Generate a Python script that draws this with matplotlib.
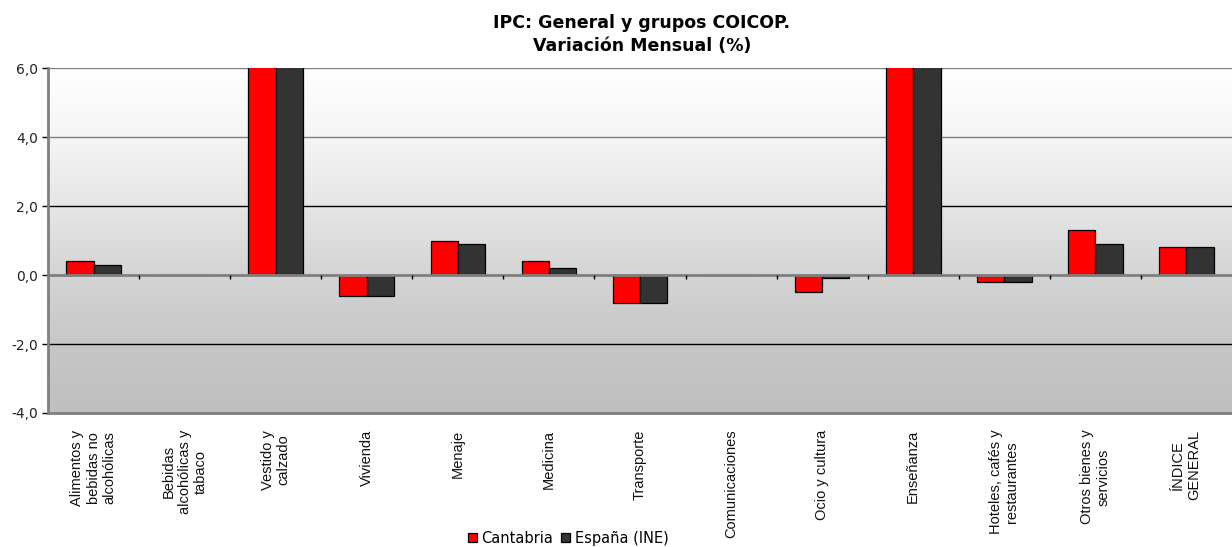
import numpy as np
import matplotlib
matplotlib.use('Agg')
import matplotlib.pyplot as plt
from matplotlib.patches import Patch
from matplotlib.colors import LinearSegmentedColormap

categorias = ['Alimentos y\nbebidas no\nalcohólicas', 'Bebidas\nalcohólicas y\ntabaco',
              'Vestido y\ncalzado', 'Vivienda', 'Menaje', 'Medicina', 'Transporte',
              'Comunicaciones', 'Ocio y cultura', 'Enseñanza', 'Hoteles, cafés y\nrestaurantes',
              'Otros bienes y\nservicios', 'ÍNDICE\nGENERAL']
# Vestido y Enseñanza superan el máximo del eje (6,0) y aparecen recortadas
cantabria = [0.4, 0.0, 6.5, -0.6, 1.0, 0.4, -0.8, 0.0, -0.5, 6.5, -0.2, 1.3, 0.8]
espana = [0.3, 0.0, 6.5, -0.6, 0.9, 0.2, -0.8, 0.0, -0.1, 6.5, -0.2, 0.9, 0.8]
yticks = [-4.0, -2.0, 0.0, 2.0, 4.0, 6.0]

fig = plt.figure(figsize=(12.32, 5.47), dpi=100)
ax = fig.add_axes([0.039, 0.245, 0.961, 0.6305])
n = len(categorias)
x = np.arange(n)
ax.set_xlim(-0.5, n - 0.5)
ax.set_ylim(-4, 6)

# fondo degradado (de abajo a arriba)
cmap = LinearSegmentedColormap.from_list('g', [(0.0, '#bfbfbf'), (0.2, '#c7c7c7'), (0.4, '#d4d4d4'),
                                                (0.6, '#e6e6e6'), (0.8, '#f5f5f5'), (1.0, '#ffffff')])
grad = np.linspace(1, 0, 256).reshape(-1, 1)
ax.imshow(grad, cmap=cmap, extent=[-0.5, n - 0.5, -4, 6], aspect='auto', zorder=0, origin='upper')

for y in yticks[1:]:
    if y == 0:
        continue
    col = '#000000' if abs(y) == 2 else '#7f7f7f'
    ax.axhline(y, color=col, lw=1, zorder=1)

w = 0.3
ax.bar(x - w / 2, cantabria, w, color='#ff0000', edgecolor='#000000', lw=0.9, zorder=2)
ax.bar(x + w / 2, espana, w, color='#333333', edgecolor='#000000', lw=0.9, zorder=2)

ax.axhline(0, color='#7f7f7f', lw=2, zorder=3)
ax.vlines(np.arange(n - 1) + 0.5, -0.12, 0, color='#000000', lw=1, zorder=3)

for s in ['top', 'right']:
    ax.spines[s].set_visible(False)
for s in ['left', 'bottom']:
    ax.spines[s].set_color('#7f7f7f')
    ax.spines[s].set_linewidth(2)
    ax.spines[s].set_zorder(4)

ax.set_yticks(yticks)
ax.set_yticklabels([f'{v:.1f}'.replace('.', ',') for v in yticks], fontsize=10, family='DejaVu Sans',
                   color='#222222')
ax.tick_params(axis='y', length=4, width=1, color='#000000', pad=3)
ax.set_xticks(x)
ax.set_xticklabels(categorias, rotation=90, fontsize=10.5, family='Liberation Sans', va='top', ha='center',
                   color='#111111')
for lab in ax.get_xticklabels():
    lab.set_multialignment('center')
ax.tick_params(axis='x', length=0, pad=12)

fig.text(0.521, 0.937, 'IPC: General y grupos COICOP.\nVariación Mensual (%)', ha='center', va='center',
         fontsize=12.5, fontweight='bold', family='DejaVu Sans', linespacing=1.3)

handles = [Patch(facecolor='#ff0000', edgecolor='#000000', lw=0.9),
           Patch(facecolor='#333333', edgecolor='#000000', lw=0.9)]
fig.legend(handles, ['Cantabria', 'España (INE)'], loc='center', bbox_to_anchor=(0.461, 0.016),
           ncol=2, frameon=False, fontsize=10.5, handlelength=0.65, handleheight=0.65,
           handletextpad=0.3, columnspacing=0.5, borderaxespad=0, borderpad=0)

fig.savefig('out.png', dpi=100)
